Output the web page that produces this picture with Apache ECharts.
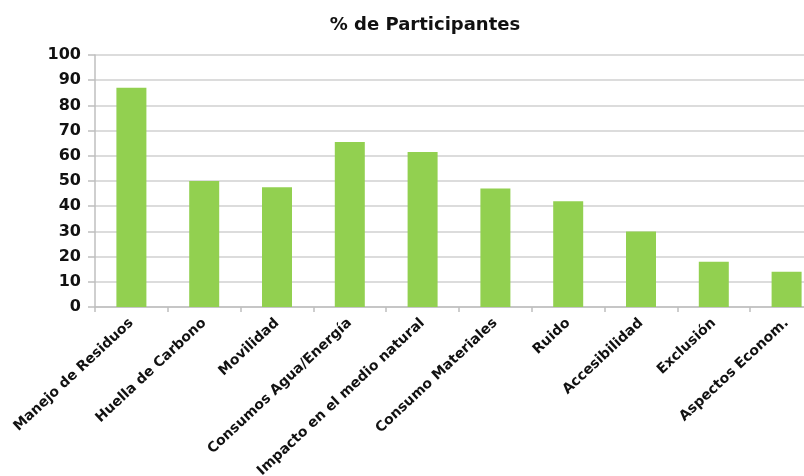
<!DOCTYPE html>
<html>
<head>
<meta charset="utf-8">
<script src="https://cdn.jsdelivr.net/npm/echarts@6/dist/echarts.min.js"></script>
<style>html,body{margin:0;padding:0;background:#fff}#c{width:804px;height:476px}</style>
</head>
<body>
<div id="c"></div>
<script>
const titleText = '% de Participantes';
const categories = ['Manejo de Residuos','Huella de Carbono','Movilidad','Consumos Agua/Energía','Impacto en el medio natural','Consumo Materiales','Ruido','Accesibilidad','Exclusión','Aspectos Econom.'];
const values = [87, 50, 47.5, 65.5, 61.5, 47, 42, 30, 18, 14];
const yTicks = {min: 0, max: 100, interval: 10};

const chart = echarts.init(document.getElementById('c'), null, {renderer: 'canvas'});
chart.setOption({
  animation: false,
  backgroundColor: '#ffffff',
  title: {
    text: titleText, left: 420, top: 11, textAlign: 'center',
    textStyle: {fontFamily: 'DejaVu Sans', fontWeight: 'bold', fontSize: 18, color: '#111'}
  },
  grid: {left: 95, right: -19, top: 55, bottom: 169, containLabel: false, outerBoundsMode: 'none'},
  xAxis: {
    type: 'category', data: categories, boundaryGap: true,
    axisLine: {lineStyle: {color: '#bfbfbf', width: 1.5}},
    axisTick: {show: true, alignWithLabel: false, length: 5, lineStyle: {color: '#bfbfbf', width: 1.5}},
    axisLabel: {rotate: 43, interval: 0, margin: 14, fontFamily: 'DejaVu Sans', fontWeight: 'bold', fontSize: 14, color: '#111'}
  },
  yAxis: {
    type: 'value', min: yTicks.min, max: yTicks.max, interval: yTicks.interval,
    axisLine: {show: true, lineStyle: {color: '#bfbfbf', width: 1.5}},
    axisTick: {show: true, length: 7, lineStyle: {color: '#bfbfbf', width: 1.5}},
    splitLine: {lineStyle: {color: '#d0d0d0', width: 1.5}},
    axisLabel: {margin: 14, fontFamily: 'DejaVu Sans', fontWeight: 'bold', fontSize: 16, color: '#111'}
  },
  series: [{
    type: 'bar', data: values, barWidth: 30,
    itemStyle: {color: '#92d050'}
  }]
});
</script>
</body>
</html>
